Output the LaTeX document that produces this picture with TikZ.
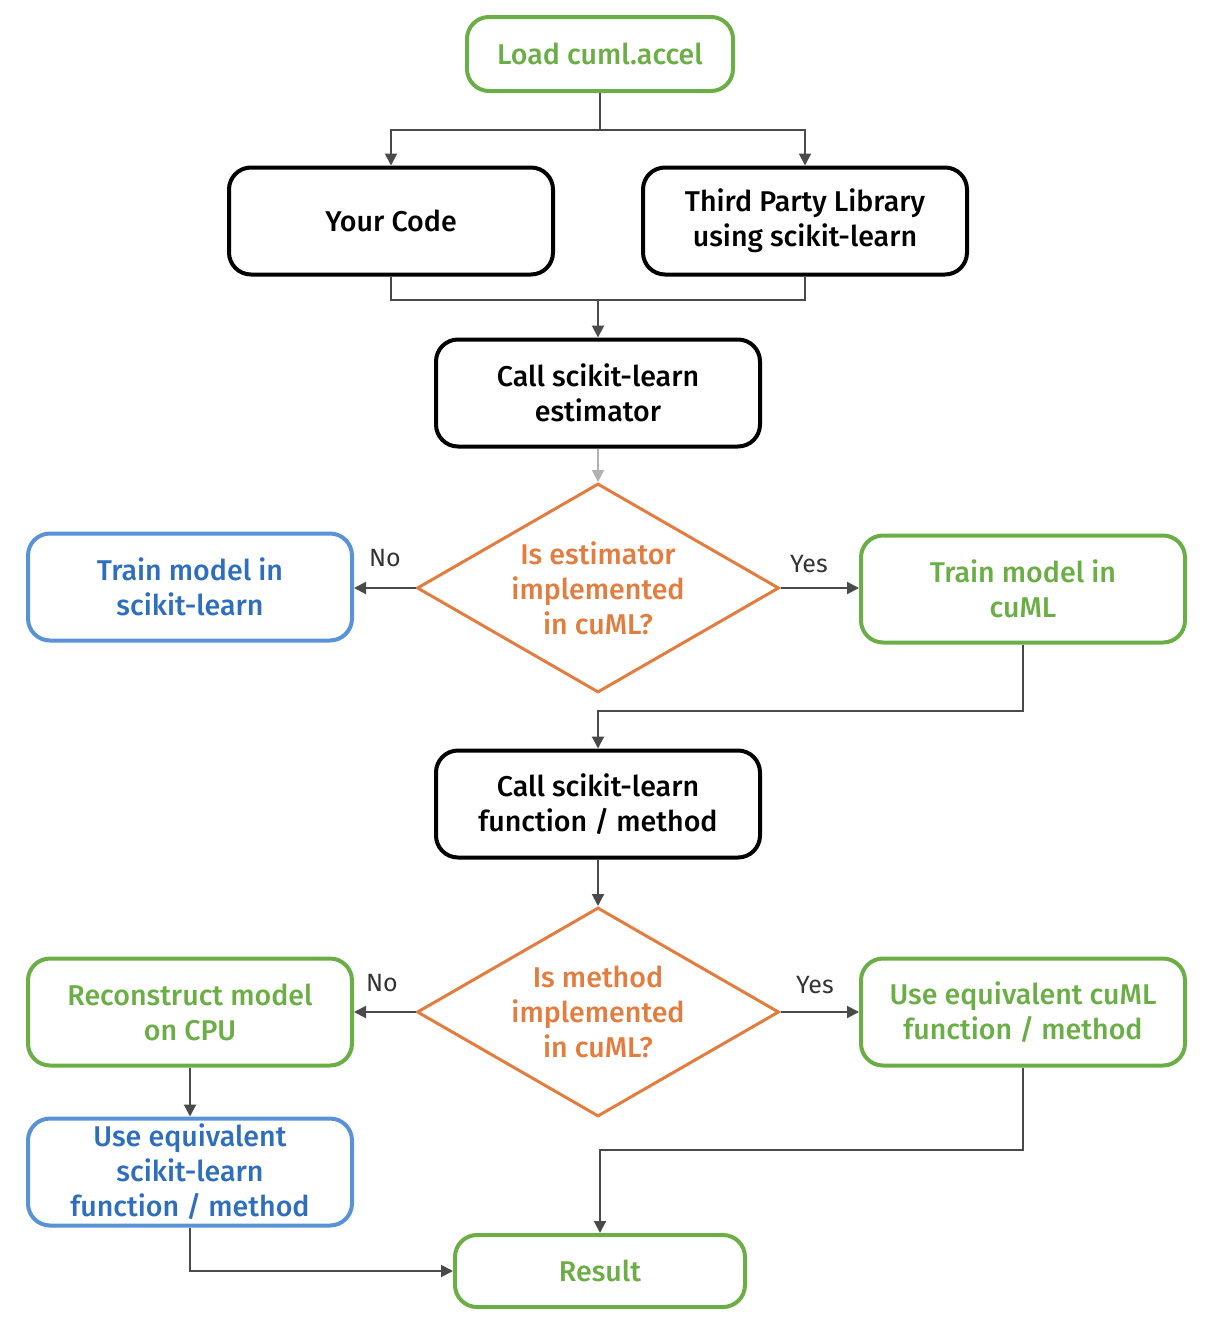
\documentclass[tikz,border=0pt]{standalone}
\usepackage{fontspec}
\setmainfont{Fira Sans}[BoldFont={Fira Sans Medium}]
\usetikzlibrary{shapes.geometric,arrows.meta}
\definecolor{nvgreen}{HTML}{6AAE45}
\definecolor{skblue}{HTML}{5A92D8}
\definecolor{skbluetext}{HTML}{2E6EBD}
\definecolor{cuorange}{HTML}{E27D3F}
\definecolor{linegray}{HTML}{4A4A4A}
\tikzset{
    box/.style={align=center, rounded corners=11pt, line width=2pt, inner sep=2pt,
        minimum width=162pt, minimum height=53.5pt, font=\fontsize{14.3}{17.5}\selectfont\bfseries},
    plain/.style={box, draw=black, text=black},
    accel/.style={box, draw=nvgreen, text=nvgreen},
    cpu/.style={box, draw=skblue, text=skbluetext},
    check/.style={diamond, draw=cuorange, text=cuorange, line width=1.5pt, align=center, inner sep=0pt,
        shape aspect=1.73, minimum width=181pt, minimum height=104.5pt, font=\fontsize{14.3}{17.5}\selectfont\bfseries},
    answer/.style={font=\fontsize{12.5}{14}\selectfont, text=black!80},
    line/.style={draw=linegray, line width=1pt},
    flow/.style={line, -{Triangle[length=6pt,width=6pt]}}
}
\begin{document}
\begin{tikzpicture}[x=0.5pt, y=-0.5pt]
\useasboundingbox (0,0) rectangle (1214,1328);

% boxes
\node[accel, minimum width=133pt, minimum height=37pt] (load) at (600,54) {Load cuml.accel};
\node[plain] (code) at (391,221) {Your Code};
\node[plain] (third) at (805,221) {Third Party Library\\using scikit-learn};
\node[plain] (callest) at (598,393) {Call scikit-learn\\estimator};
\node[check] (isest) at (598,588) {Is estimator\\implemented\\in cuML?};
\node[cpu] (trainsk) at (190,587) {Train model in\\scikit-learn};
\node[accel] (traincu) at (1023,589) {Train model in\\cuML};
\node[plain] (callfn) at (598,804) {Call scikit-learn\\function / method};
\node[check] (ismeth) at (598,1012) {Is method\\implemented\\in cuML?};
\node[accel] (recon) at (190,1012) {Reconstruct model\\on CPU};
\node[accel] (usecu) at (1023,1012) {Use equivalent cuML\\function / method};
\node[cpu] (usesk) at (190,1172) {Use equivalent\\scikit-learn\\function / method};
\node[accel, minimum width=145pt, minimum height=36pt] (result) at (600,1271) {Result};

% answers
\node[answer] (no1) at (385,558) {No};
\node[answer] (yes1) at (809,564) {Yes};
\node[answer] (no2) at (382,983) {No};
\node[answer] (yes2) at (815,985) {Yes};

% turning points
\coordinate (split) at (600,130);
\coordinate (merge) at (598,300);
\coordinate (join) at (598,711);
\coordinate (gather) at (600,1150);

% connectors
\draw[line] (load.south) -- (split);
\draw[flow] (split) -| (code.north);
\draw[flow] (split) -| (third.north);
\draw[line] (code.south) |- (merge) -| (third.south);
\draw[flow] (merge) -- (callest.north);
\draw[flow, draw=gray!60] (callest) -- (isest);
\draw[flow] (isest.west) -- (isest.west -| trainsk.east);
\draw[flow] (isest.east) -- (isest.east -| traincu.west);
\draw[flow] (traincu.south) |- (join) -- (callfn.north);
\draw[flow] (callfn) -- (ismeth);
\draw[flow] (ismeth.west) -- (recon.east);
\draw[flow] (ismeth.east) -- (usecu.west);
\draw[flow] (recon) -- (usesk);
\draw[flow] (usesk.south) |- (result.west);
\draw[flow] (usecu.south) |- (gather) -- (result.north);

\end{tikzpicture}
\end{document}
